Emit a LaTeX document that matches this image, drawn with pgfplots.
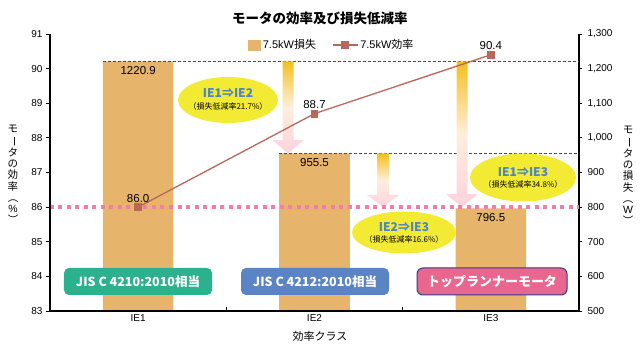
\documentclass[border=0pt]{standalone}
\usepackage{pgfplots}
\pgfplotsset{compat=1.18}
\usepackage{fontspec}
\setmainfont{Liberation Sans}
\newfontfamily\jp{Noto Sans CJK JP}
\definecolor{barcol}{HTML}{E6B56B}
\definecolor{linecol}{HTML}{B8675A}
\definecolor{pinkdot}{HTML}{F27DAA}
\definecolor{ellcol}{HTML}{F3EA34}
\definecolor{elltxt}{HTML}{4A86C8}
\definecolor{greenbox}{HTML}{2CB18F}
\definecolor{bluebox}{HTML}{5B84C4}
\definecolor{pinkbox}{HTML}{E9668E}
\definecolor{pinkedge}{HTML}{2E3B8E}
\definecolor{agold}{HTML}{F4C01C}
\definecolor{apale}{HTML}{FFEEDD}
\definecolor{apink}{HTML}{FFD2DE}
\newcommand{\vchar}[1]{\rotatebox[origin=c]{-90}{#1}}
\begin{document}
\begin{tikzpicture}
\useasboundingbox (-50pt,-40pt) rectangle (591pt,311pt);
% ---------- bars (right axis, W) ----------
\begin{axis}[
  at={(0pt,0pt)}, anchor=south west,
  scale only axis, width=529pt, height=277pt,
  xmin=-0.5, xmax=2.5, ymin=500, ymax=1300,
  axis x line=none, axis y line*=right,
  axis line style={line width=2pt,-},
  ytick={500,600,...,1300},
  ytick align=outside, major tick length=3pt,
  tick style={line width=0.8pt, black},
  yticklabel style={font=\fontsize{10}{12}\selectfont, xshift=2pt},
  /pgf/number format/assume math mode=true,
  /pgf/number format/1000 sep={,},
  scaled y ticks=false,
]
\addplot[ybar, bar width=0.4, fill=barcol, draw=none,
  nodes near coords={\pgfmathprintnumber[fixed,fixed zerofill,precision=1,1000 sep={}]{\pgfplotspointmeta}},
  every node near coord/.append style={anchor=north, font=\fontsize{11.5}{13}\selectfont, text=black, yshift=-2pt}]
  coordinates {(0,1220.9) (1,955.5) (2,796.5)};
\end{axis}
% ---------- decorations ----------
\draw[gray!60!black, line width=0.6pt, dash pattern=on 3pt off 2pt] (52.9pt,249.6pt) -- (529pt,249.6pt);
\draw[gray!60!black, line width=0.6pt, dash pattern=on 3pt off 2pt] (229.2pt,157.7pt) -- (529pt,157.7pt);
\shade[top color=agold, bottom color=apink, middle color=apale]
  (232.5pt,249.6pt) -- (243.5pt,249.6pt) -- (243.5pt,171pt) -- (254pt,171pt) -- (238pt,157.7pt) -- (222pt,171pt) -- (232.5pt,171pt) -- cycle;
\shade[top color=agold, bottom color=apink, middle color=apale]
  (327pt,157.7pt) -- (339pt,157.7pt) -- (339pt,116pt) -- (349pt,116pt) -- (333pt,103.9pt) -- (317pt,116pt) -- (327pt,116pt) -- cycle;
\shade[top color=agold, bottom color=apink, middle color=apale]
  (406.5pt,249.6pt) -- (417.5pt,249.6pt) -- (417.5pt,117pt) -- (428pt,117pt) -- (412pt,103.9pt) -- (396pt,117pt) -- (406.5pt,117pt) -- cycle;
\draw[pinkdot, line width=3.5pt, dash pattern=on 4pt off 4.5pt] (0pt,103.9pt) -- (529pt,103.9pt);
% ellipses
\fill[ellcol] (178pt,211pt) ellipse [x radius=50pt, y radius=23pt];
\node[text=elltxt, font=\jp\bfseries\fontsize{12}{14}\selectfont] at (178pt,217.5pt) {IE1⇒IE2};
\node[font=\jp\fontsize{8}{9}\selectfont] at (178pt,205pt) {（損失低減率21.7\%）};
\fill[ellcol] (354pt,78.5pt) ellipse [x radius=52pt, y radius=21pt];
\node[text=elltxt, font=\jp\bfseries\fontsize{12}{14}\selectfont] at (354pt,84pt) {IE2⇒IE3};
\node[font=\jp\fontsize{8}{9}\selectfont] at (354pt,71.5pt) {（損失低減率16.6\%）};
\fill[ellcol] (473pt,133.5pt) ellipse [x radius=53pt, y radius=24pt];
\node[text=elltxt, font=\jp\bfseries\fontsize{12}{14}\selectfont] at (473pt,139pt) {IE1⇒IE3};
\node[font=\jp\fontsize{8}{9}\selectfont] at (473pt,127pt) {（損失低減率34.8\%）};
% boxes
\fill[greenbox, rounded corners=5pt] (14pt,16pt) rectangle (162pt,43pt);
\node[text=white, font=\jp\bfseries\fontsize{12.5}{14}\selectfont] at (88pt,29.5pt) {JIS C 4210:2010相当};
\fill[bluebox, rounded corners=5pt] (191pt,16pt) rectangle (339pt,43pt);
\node[text=white, font=\jp\bfseries\fontsize{12.5}{14}\selectfont] at (265pt,29.5pt) {JIS C 4212:2010相当};
\filldraw[fill=pinkbox, draw=pinkedge, line width=1pt, rounded corners=6pt] (367pt,16pt) rectangle (517pt,43pt);
\node[text=white, font=\jp\bfseries\fontsize{13}{14}\selectfont] at (442pt,29.5pt) {トップランナーモータ};
% titles and labels
\node[font=\jp\bfseries\fontsize{13.5}{15}\selectfont] at (270pt,293pt) {モータの効率及び損失低減率};
\node[font=\jp\fontsize{11}{13}\selectfont] at (270pt,-25pt) {効率クラス};
\node[font=\jp\fontsize{10.5}{11.3}\selectfont, align=center, inner sep=0pt] at (-37pt,136pt)
  {モ\\\vchar{ー}\\タ\\の\\効\\率\\\vchar{（}\\{\rmfamily\%}\\\vchar{）}};
\node[font=\jp\fontsize{10.5}{11.3}\selectfont, align=center, inner sep=0pt] at (578pt,135pt)
  {モ\\\vchar{ー}\\タ\\の\\損\\失\\\vchar{（}\\{\rmfamily W}\\\vchar{）}};
% ---------- line (left axis, %) ----------
\begin{axis}[
  at={(0pt,0pt)}, anchor=south west,
  scale only axis, width=529pt, height=277pt,
  xmin=-0.5, xmax=2.5, ymin=83, ymax=91,
  axis x line*=bottom, axis y line*=left,
  axis line style={line width=2pt,-},
  ytick={83,...,91},
  xtick={0.5,1.5}, xticklabels={},
  extra x ticks={0,1,2}, extra x tick labels={IE1,IE2,IE3},
  extra x tick style={major tick length=0pt},
  xtick align=inside, ytick align=outside,
  major tick length=4pt,
  tick style={line width=0.8pt, black},
  ticklabel style={font=\fontsize{10}{12}\selectfont},
  /pgf/number format/assume math mode=true,
  legend style={at={(axis description cs:0.533,0.96)}, anchor=center, draw=none, fill=none,
    font=\fontsize{11}{13}\selectfont, legend columns=2,
    /tikz/every even column/.append style={column sep=14pt}},
  legend cell align=left,
]
\addlegendimage{legend image code/.code={\fill[barcol] (0pt,-5pt) rectangle (12pt,5pt);}}
\addlegendentry{7.5kW{\jp 損失}}
\addplot[color=linecol, line width=1.3pt, mark=square*, mark size=3.3pt, mark options={fill=linecol},
  legend image code/.code={\draw[linecol,line width=1.3pt] (0pt,0pt) -- (25pt,0pt); \fill[linecol] (9pt,-3.3pt) rectangle (15.6pt,3.3pt);},
  nodes near coords={\pgfmathprintnumber[fixed,fixed zerofill,precision=1]{\pgfplotspointmeta}},
  every node near coord/.append style={font=\fontsize{11.5}{13}\selectfont, text=black, anchor=south, yshift=1pt}]
  coordinates {(0,86.0) (1,88.7) (2,90.4)};
\addlegendentry{7.5kW{\jp 効率}}
\end{axis}
\end{tikzpicture}
\end{document}
